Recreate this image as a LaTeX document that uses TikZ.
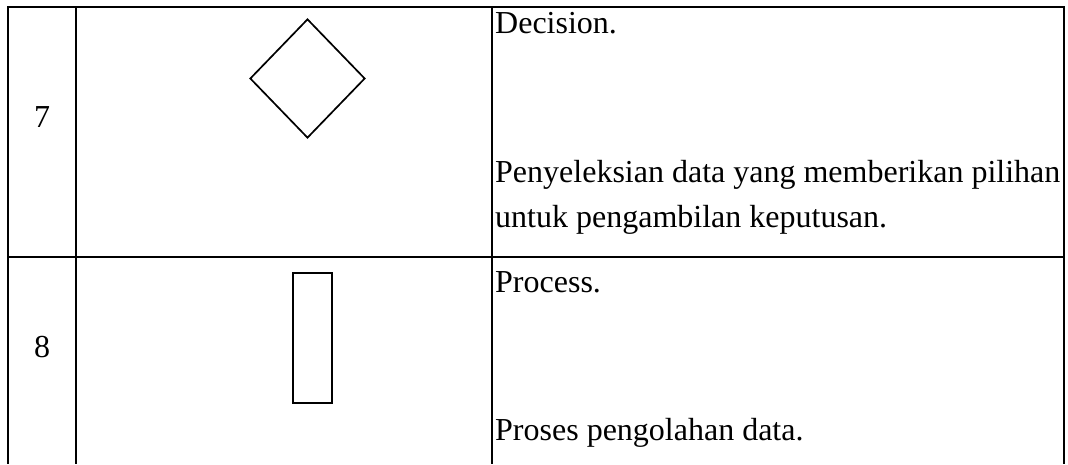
\documentclass[tikz,border=0pt]{standalone}
\usepackage{fontspec}
\setmainfont{Liberation Serif}
\usetikzlibrary{shapes.geometric}

\tikzset{
  texte/.style={anchor=base west, inner sep=0pt, font=\fontsize{32}{38}\selectfont},
  numero/.style={inner sep=0pt, font=\fontsize{32}{38}\selectfont},
  symbole/.style={draw, line width=1.7pt, inner sep=0pt}
}

\begin{document}
\begin{tikzpicture}[x=1pt, y=1pt]
    \useasboundingbox (0,0) rectangle (1068,-464);

    % Lignes du tableau
    \foreach \x in {8,76,492,1064}
        \draw[line width=2pt] (\x,-7) -- (\x,-464);
    \draw[line width=2pt] (7,-7) -- (1065,-7);
    \draw[line width=2pt] (7,-257) -- (1065,-257);

    % Numeros
    \node[numero] (n7) at (42,-117) {7};
    \node[numero] (n8) at (42,-347) {8};

    % Symboles
    \node[symbole, diamond, minimum width=115pt, minimum height=119pt] (decision) at (307.5,-78.5) {};
    \node[symbole, rectangle, minimum width=39pt, minimum height=130pt] (process) at (312.5,-338) {};

    % Descriptions
    \node[texte] (t7a) at (495,-33) {Decision.};
    \node[texte] (t7b) at (495,-182) {Penyeleksian data yang memberikan pilihan};
    \node[texte] (t7c) at (495,-227) {untuk pengambilan keputusan.};
    \node[texte] (t8a) at (495,-292) {Process.};
    \node[texte] (t8b) at (495,-440) {Proses pengolahan data.};
\end{tikzpicture}
\end{document}
